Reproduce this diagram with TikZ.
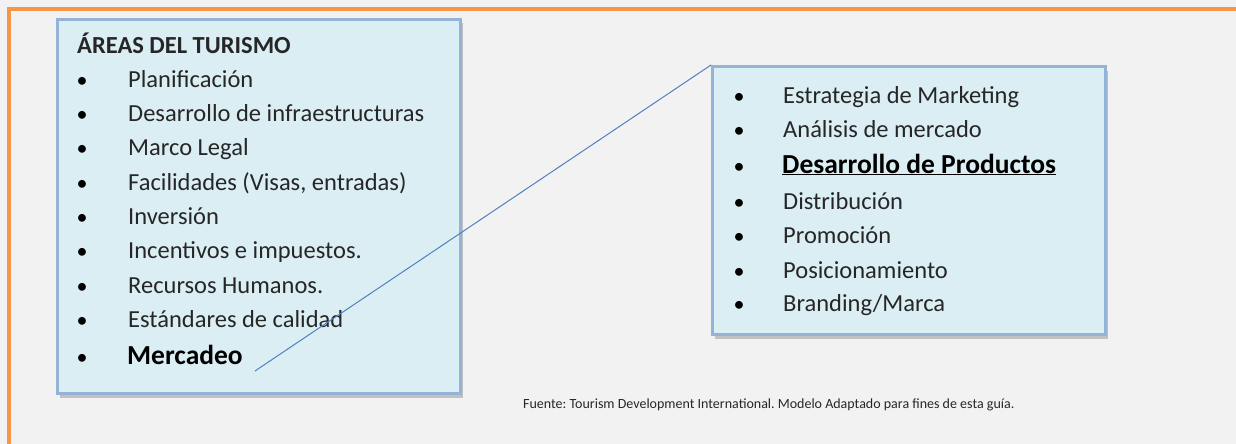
\documentclass[tikz,border=0pt]{standalone}
\usepackage{fontspec}
\setmainfont{Carlito}
\usetikzlibrary{shadows}
\definecolor{bgc}{HTML}{F2F2F2}
\definecolor{orangec}{HTML}{F79646}
\definecolor{boxfill}{HTML}{DBEEF4}
\definecolor{boxline}{HTML}{95B3D7}
\definecolor{linkc}{HTML}{4F81BD}
\definecolor{txt}{HTML}{262626}
\frenchspacing
\tikzset{
  panel/.style={draw=boxline, line width=3pt, fill=boxfill, inner sep=0pt,
    drop shadow={shadow xshift=2pt, shadow yshift=-4pt, opacity=0.35, fill=black!60}},
  item/.style={anchor=base west, inner sep=0pt, font=\fontsize{24.5}{24.5}\selectfont, text=txt},
  bold item/.style={item, font=\fontsize{27.5}{27.5}\selectfont\bfseries, text=black},
  bul/.style={anchor=base, inner sep=0pt, font=\fontsize{22}{22}\selectfont, text=black},
  link/.style={draw=linkc, line width=1pt}
}
\begin{document}
\begin{tikzpicture}[x=1pt,y=-1pt]
\useasboundingbox (0,0) rectangle (1236,444);
\fill[bgc] (0,0) rectangle (1236,444);
\draw[orangec, line width=4pt] (9,460) -- (9,9) -- (1250,9);
% left panel
\node[panel, minimum width=403pt, minimum height=374pt, anchor=north west] (left) at (56,18) {};
\node[anchor=base west, inner sep=0pt, font=\fontsize{24.5}{24.5}\selectfont\bfseries, text=txt] (title) at (77,53) {ÁREAS DEL TURISMO};
\node[bul] (lb1) at (82,87) {•}; \node[item] (l1) at (128,87) {Planificación};
\node[bul] (lb2) at (82,121) {•}; \node[item] (l2) at (128,121) {Desarrollo de infraestructuras};
\node[bul] (lb3) at (82,155) {•}; \node[item] (l3) at (128,155) {Marco Legal};
\node[bul] (lb4) at (82,190) {•}; \node[item] (l4) at (128,190) {Facilidades (Visas, entradas)};
\node[bul] (lb5) at (82,224) {•}; \node[item] (l5) at (128,224) {Inversión};
\node[bul] (lb6) at (82,258) {•}; \node[item] (l6) at (128,258) {Incentivos e impuestos.};
\node[bul] (lb7) at (82,293) {•}; \node[item] (l7) at (128,293) {Recursos Humanos.};
\node[bul] (lb8) at (82,327) {•}; \node[item] (l8) at (128,327) {Estándares de calidad};
\node[bul] (lb9) at (82,364) {•}; \node[bold item] (l9) at (127,364) {Mercadeo};
% right panel
\node[panel, minimum width=393pt, minimum height=268pt, anchor=north west] (right) at (711,65) {};
\node[bul] (rb1) at (739,103) {•}; \node[item] (r1) at (783,103) {Estrategia de Marketing};
\node[bul] (rb2) at (739,137) {•}; \node[item] (r2) at (783,137) {Análisis de mercado};
\node[bul] (rb3) at (739,173) {•}; \node[bold item] (r3) at (782,173) {\underline{Desarrollo de Productos}};
\node[bul] (rb4) at (739,209) {•}; \node[item] (r4) at (783,209) {Distribución};
\node[bul] (rb5) at (739,243) {•}; \node[item] (r5) at (783,243) {Promoción};
\node[bul] (rb6) at (739,278) {•}; \node[item] (r6) at (783,278) {Posicionamiento};
\node[bul] (rb7) at (739,311) {•}; \node[item] (r7) at (783,311) {Branding/Marca};
% connector
\coordinate (mstart) at ([xshift=12pt,yshift=-7pt]l9.base east);
\draw[link] (mstart) -- (right.north west);
% source
\node[anchor=base west, inner sep=0pt, font=\fontsize{14}{14}\selectfont, text=txt] (src) at (523,408) {Fuente: Tourism Development International. Modelo Adaptado para fines de esta guía.};
\end{tikzpicture}
\end{document}
